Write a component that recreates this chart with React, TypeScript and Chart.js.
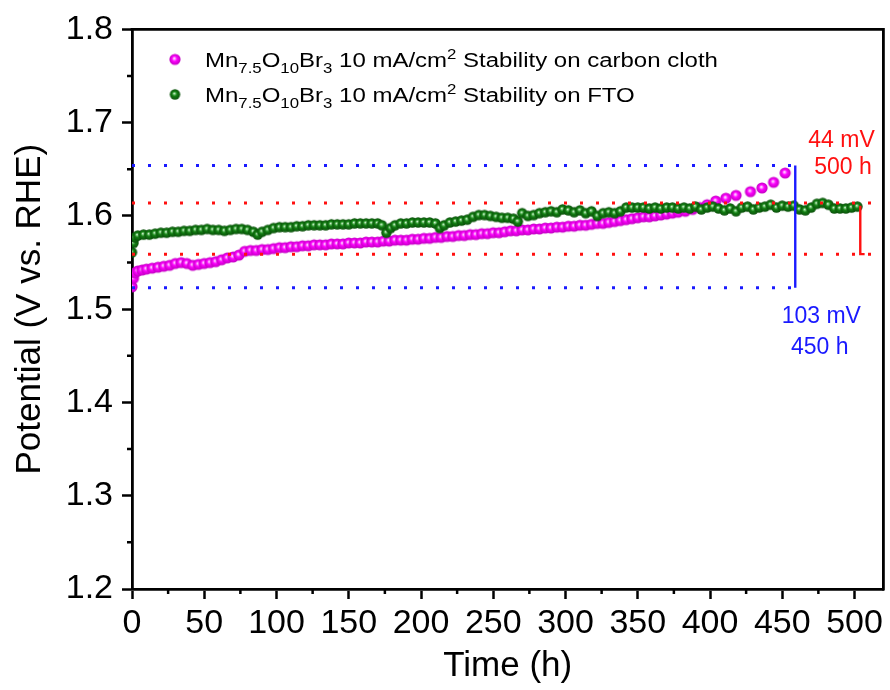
import React, { useEffect, useRef } from 'react';
import { Chart, registerables } from 'chart.js';

Chart.register(...registerables);

// ---------- data ----------
const carbonTimes = [
  0, 1, 2, 4, 7, 10, 14, 18, 22, 26, 30, 34, 38, 42, 46, 50, 54, 58, 62, 66, 70, 74, 78, 82, 86, 90, 94, 98,
  102, 106, 110, 114, 118, 122, 126, 130, 134, 138, 142, 146, 150, 154, 158, 162, 166, 170, 174, 178, 182,
  186, 190, 194, 198, 202, 206, 210, 214, 218, 222, 226, 230, 234, 238, 242, 246, 250, 254, 258, 262, 266,
  270, 274, 278, 282, 286, 290, 294, 298, 302, 306, 310, 314, 318, 322, 326, 330, 334, 338, 342, 346, 350,
  354, 358, 362, 366, 370, 374, 378, 383, 388, 393, 398, 404, 411, 418, 428, 436, 444, 452,
];
const carbonPotential = [
  1.524, 1.533, 1.539, 1.541, 1.542, 1.543, 1.544, 1.545, 1.546, 1.547, 1.549, 1.550, 1.549, 1.547, 1.548,
  1.549, 1.550, 1.551, 1.553, 1.555, 1.556, 1.558, 1.562, 1.563, 1.563, 1.564, 1.564, 1.565, 1.566, 1.566,
  1.567, 1.567, 1.568, 1.568, 1.569, 1.569, 1.569, 1.570, 1.570, 1.570, 1.571, 1.571, 1.571, 1.572, 1.572,
  1.572, 1.573, 1.573, 1.574, 1.574, 1.574, 1.575, 1.575, 1.576, 1.576, 1.577, 1.577, 1.578, 1.578, 1.579,
  1.579, 1.580, 1.580, 1.581, 1.581, 1.582, 1.582, 1.583, 1.584, 1.584, 1.585, 1.585, 1.586, 1.586, 1.587,
  1.587, 1.588, 1.588, 1.589, 1.589, 1.590, 1.590, 1.591, 1.592, 1.592, 1.593, 1.594, 1.595, 1.596, 1.597,
  1.598, 1.599, 1.599, 1.600, 1.601, 1.602, 1.603, 1.604, 1.605, 1.607, 1.609, 1.612, 1.616, 1.619, 1.622,
  1.626, 1.630, 1.636, 1.646,
];

const ftoTimes = [
  0, 1, 2, 4, 8, 12, 16, 20, 24, 28, 32, 36, 40, 44, 48, 52, 56, 60, 64, 68, 72, 76, 80, 84, 87, 90, 94, 98,
  102, 106, 110, 114, 118, 122, 126, 130, 134, 138, 142, 146, 150, 154, 158, 162, 166, 170, 173, 176, 179,
  182, 186, 190, 194, 198, 202, 206, 210, 213, 216, 220, 224, 228, 232, 236, 240, 244, 248, 252, 256, 260,
  264, 267, 270, 274, 278, 282, 286, 290, 294, 298, 302, 306, 310, 314, 318, 322, 326, 330, 334, 338, 342,
  346, 350, 354, 358, 362, 366, 370, 374, 378, 382, 386, 390, 394, 398, 402, 406, 410, 414, 418, 422, 426,
  430, 434, 438, 442, 446, 450, 454, 458, 462, 466, 470, 474, 478, 482, 486, 490, 494, 498, 502,
];
const ftoPotential = [
  1.561, 1.571, 1.577, 1.579, 1.580, 1.580, 1.581, 1.582, 1.582, 1.583, 1.583, 1.584, 1.584, 1.585, 1.585,
  1.586, 1.585, 1.585, 1.584, 1.585, 1.586, 1.586, 1.585, 1.583, 1.580, 1.583, 1.585, 1.587, 1.588, 1.588,
  1.588, 1.589, 1.589, 1.590, 1.590, 1.590, 1.590, 1.591, 1.591, 1.591, 1.591, 1.592, 1.592, 1.592, 1.592,
  1.592, 1.590, 1.582, 1.587, 1.590, 1.592, 1.592, 1.593, 1.593, 1.593, 1.593, 1.592, 1.587, 1.590, 1.593,
  1.594, 1.595, 1.596, 1.599, 1.601, 1.601, 1.600, 1.599, 1.598, 1.598, 1.597, 1.594, 1.603, 1.600, 1.601,
  1.603, 1.604, 1.605, 1.604, 1.607, 1.606, 1.604, 1.606, 1.603, 1.605, 1.600, 1.603, 1.604, 1.603, 1.605,
  1.609, 1.609, 1.609, 1.609, 1.608, 1.609, 1.608, 1.609, 1.609, 1.608, 1.609, 1.608, 1.610, 1.607, 1.609,
  1.610, 1.608, 1.606, 1.608, 1.605, 1.609, 1.610, 1.607, 1.609, 1.610, 1.612, 1.609, 1.611, 1.610, 1.611,
  1.607, 1.606, 1.609, 1.613, 1.614, 1.612, 1.608, 1.608, 1.608, 1.609, 1.610,
];

const seriesNames = ['Stability on carbon cloth', 'Stability on FTO'];

const timeTicksMajor = [0, 50, 100, 150, 200, 250, 300, 350, 400, 450, 500];
const timeTicksMinor = [25, 75, 125, 175, 225, 275, 325, 375, 425, 475];
const potentialTicksMajor = [1.2, 1.3, 1.4, 1.5, 1.6, 1.7, 1.8];
const potentialTicksMinor = [1.25, 1.35, 1.45, 1.55, 1.65, 1.75];

// guide lines (data coordinates)
const blueUpperGuide = [{ x: 0, y: 1.654 }, { x: 463, y: 1.654 }];
const blueLowerGuide = [{ x: 0, y: 1.523 }, { x: 459, y: 1.523 }];
const redUpperGuide = [{ x: 0, y: 1.614 }, { x: 520, y: 1.614 }];
const redLowerGuide = [{ x: 0, y: 1.559 }, { x: 520, y: 1.559 }];
const blueSpan = [{ x: 459, y: 1.654 }, { x: 459, y: 1.523 }];
const redSpan = [{ x: 504, y: 1.611 }, { x: 504, y: 1.559 }, { x: 507, y: 1.559 }];

const redLabels = ['44 mV', '500 h'];
const redLabelAnchors = [{ x: 491, y: 1.681 }, { x: 492, y: 1.652 }];
const blueLabels = ['103 mV', '450 h'];
const blueLabelAnchors = [{ x: 477, y: 1.4925 }, { x: 476, y: 1.459 }];

// ---------- styling ----------
const FONT = '"Liberation Sans", Arial, Helvetica, sans-serif';
const MAGENTA = '#ff00ff';
const GREEN = '#138013';
const RED = '#ff1010';
const BLUE = '#1a1aff';

function makeSphere(r: number, light: string, base: string, dark: string): HTMLCanvasElement {
  const s = Math.ceil(r * 2) + 2;
  const c = document.createElement('canvas');
  c.width = s;
  c.height = s;
  const g = c.getContext('2d')!;
  const cx = s / 2;
  const cy = s / 2;
  const grad = g.createRadialGradient(cx - r * 0.15, cy - r * 0.2, 0, cx, cy, r);
  grad.addColorStop(0, '#ffffff');
  grad.addColorStop(0.18, light);
  grad.addColorStop(0.45, base);
  grad.addColorStop(1, dark);
  g.fillStyle = grad;
  g.beginPath();
  g.arc(cx, cy, r, 0, Math.PI * 2);
  g.fill();
  return c;
}

const isIn = (arr: number[], v: number) => arr.some((m) => Math.abs(m - v) < 1e-6);

export default function App() {
  const ref = useRef<HTMLCanvasElement | null>(null);

  useEffect(() => {
    document.body.style.margin = '0';
    const canvas = ref.current;
    if (!canvas) return;

    const magentaSphere = makeSphere(5.6, '#ff9cff', MAGENTA, '#c000c0');
    const greenSphere = makeSphere(5.2, '#7fcf7f', GREEN, '#0a500a');

    const guide = (data: { x: number; y: number }[], color: string, dotted: boolean) => ({
      data,
      showLine: true,
      borderColor: color,
      backgroundColor: color,
      borderWidth: dotted ? 3 : 2.4,
      borderDash: dotted ? [3, 13] : [],
      borderCapStyle: 'butt' as const,
      pointRadius: 0,
      fill: false,
      tension: 0,
      order: 0,
    });

    const drawLegendLine = (ctx: CanvasRenderingContext2D, x: number, y: number, tail: string) => {
      const parts: [string, 'n' | 'sub' | 'sup'][] = [
        ['Mn', 'n'], ['7.5', 'sub'], ['O', 'n'], ['10', 'sub'], ['Br', 'n'], ['3', 'sub'],
        [' 10 mA/cm', 'n'], ['2', 'sup'], [' ' + tail, 'n'],
      ];
      ctx.save();
      ctx.translate(x, y);
      ctx.scale(1.2, 1);
      ctx.fillStyle = '#000';
      ctx.textBaseline = 'alphabetic';
      ctx.textAlign = 'left';
      let cx = 0;
      for (const [t, k] of parts) {
        if (k === 'n') {
          ctx.font = `20px ${FONT}`;
          ctx.fillText(t, cx, 0);
        } else if (k === 'sub') {
          ctx.font = `14px ${FONT}`;
          ctx.fillText(t, cx, 6);
        } else {
          ctx.font = `14px ${FONT}`;
          ctx.fillText(t, cx, -8);
        }
        cx += ctx.measureText(t).width;
      }
      ctx.restore();
    };

    const decorPlugin = {
      id: 'decor',
      afterDraw(chart: any) {
        const { ctx, chartArea } = chart;
        const xs = chart.scales.x;
        const ys = chart.scales.y;
        ctx.save();
        ctx.strokeStyle = '#000';
        ctx.lineWidth = 2.5;
        // minor ticks
        ctx.beginPath();
        for (const v of timeTicksMinor) {
          const px = xs.getPixelForValue(v);
          ctx.moveTo(px, chartArea.bottom);
          ctx.lineTo(px, chartArea.bottom + 5);
        }
        for (const v of potentialTicksMinor) {
          const py = ys.getPixelForValue(v);
          ctx.moveTo(chartArea.left, py);
          ctx.lineTo(chartArea.left - 5, py);
        }
        ctx.stroke();
        // frame top & right
        ctx.lineWidth = 2.8;
        ctx.beginPath();
        ctx.moveTo(chartArea.left - 1.4, chartArea.top);
        ctx.lineTo(chartArea.right, chartArea.top);
        ctx.lineTo(chartArea.right, chartArea.bottom + 1.4);
        ctx.stroke();

        // annotation labels
        ctx.font = `23px ${FONT}`;
        ctx.textAlign = 'center';
        ctx.textBaseline = 'middle';
        ctx.fillStyle = RED;
        redLabels.forEach((t, i) => {
          ctx.fillText(t, xs.getPixelForValue(redLabelAnchors[i].x), ys.getPixelForValue(redLabelAnchors[i].y));
        });
        ctx.fillStyle = BLUE;
        blueLabels.forEach((t, i) => {
          ctx.fillText(t, xs.getPixelForValue(blueLabelAnchors[i].x), ys.getPixelForValue(blueLabelAnchors[i].y));
        });

        // legend
        const lx = chartArea.left + 43;
        const ly1 = chartArea.top + 30;
        const ly2 = chartArea.top + 65;
        ctx.drawImage(magentaSphere, lx - magentaSphere.width / 2, ly1 - magentaSphere.height / 2);
        ctx.drawImage(greenSphere, lx - greenSphere.width / 2, ly2 - greenSphere.height / 2);
        drawLegendLine(ctx, chartArea.left + 73, ly1 + 8, seriesNames[0]);
        drawLegendLine(ctx, chartArea.left + 73, ly2 + 8, seriesNames[1]);
        ctx.restore();
      },
    };

    const chart = new Chart(canvas, {
      type: 'scatter',
      data: {
        datasets: [
          {
            label: seriesNames[1],
            data: ftoTimes.map((t, i) => ({ x: t, y: ftoPotential[i] })),
            pointStyle: greenSphere as any,
            pointRadius: 5.2,
            showLine: false,
            order: 1,
          },
          {
            label: seriesNames[0],
            data: carbonTimes.map((t, i) => ({ x: t, y: carbonPotential[i] })),
            pointStyle: magentaSphere as any,
            pointRadius: 5.6,
            showLine: false,
            order: 2,
          },
          guide(blueUpperGuide, BLUE, true),
          guide(blueLowerGuide, BLUE, true),
          guide(redUpperGuide, RED, true),
          guide(redLowerGuide, RED, true),
          guide(blueSpan, BLUE, false),
          guide(redSpan, RED, false),
        ] as any,
      },
      options: {
        animation: false,
        responsive: false,
        events: [],
        layout: { padding: { top: 29, right: 5, left: 0, bottom: 0 } },
        plugins: { legend: { display: false }, tooltip: { enabled: false } },
        scales: {
          x: {
            type: 'linear',
            min: 0,
            max: 520,
            afterBuildTicks: (s: any) => {
              s.ticks = [...timeTicksMajor, ...timeTicksMinor].sort((a, b) => a - b).map((v) => ({ value: v }));
            },
            afterFit: (s: any) => {
              s.height = 101;
            },
            ticks: {
              autoSkip: false,
              maxRotation: 0,
              minRotation: 0,
              padding: 4,
              color: '#000',
              font: { family: FONT, size: 34 },
              callback: (v: any) => (isIn(timeTicksMajor, Number(v)) ? String(v) : ''),
            },
            grid: {
              drawOnChartArea: false,
              drawTicks: true,
              tickLength: 10,
              tickWidth: 2.5,
              tickColor: (c: any) => (c.tick && isIn(timeTicksMajor, c.tick.value) ? '#000' : 'rgba(0,0,0,0)'),
            },
            border: { display: true, color: '#000', width: 2.8 },
            title: {
              display: true,
              text: 'Time (h)',
              color: '#000',
              font: { family: FONT, size: 35 },
              padding: { top: 0, bottom: 3 },
            },
          },
          y: {
            type: 'linear',
            min: 1.2,
            max: 1.8,
            afterBuildTicks: (s: any) => {
              s.ticks = [...potentialTicksMajor, ...potentialTicksMinor].sort((a, b) => a - b).map((v) => ({ value: v }));
            },
            afterFit: (s: any) => {
              s.width = 132;
            },
            ticks: {
              autoSkip: false,
              padding: 9,
              color: '#000',
              font: { family: FONT, size: 34 },
              callback: (v: any) => (isIn(potentialTicksMajor, Number(v)) ? Number(v).toFixed(1) : ''),
            },
            grid: {
              drawOnChartArea: false,
              drawTicks: true,
              tickLength: 10,
              tickWidth: 2.5,
              tickColor: (c: any) => (c.tick && isIn(potentialTicksMajor, c.tick.value) ? '#000' : 'rgba(0,0,0,0)'),
            },
            border: { display: true, color: '#000', width: 2.8 },
            title: {
              display: true,
              text: 'Potential (V vs. RHE)',
              color: '#000',
              font: { family: FONT, size: 35 },
              padding: { top: 9, bottom: 0 },
            },
          },
        },
      } as any,
      plugins: [decorPlugin],
    });

    return () => {
      chart.destroy();
    };
  }, []);

  return (
    <div style={{ width: 890, height: 690, position: 'relative', background: '#fff' }}>
      <canvas ref={ref} width={890} height={690} style={{ display: 'block', width: 890, height: 690 }} />
    </div>
  );
}
